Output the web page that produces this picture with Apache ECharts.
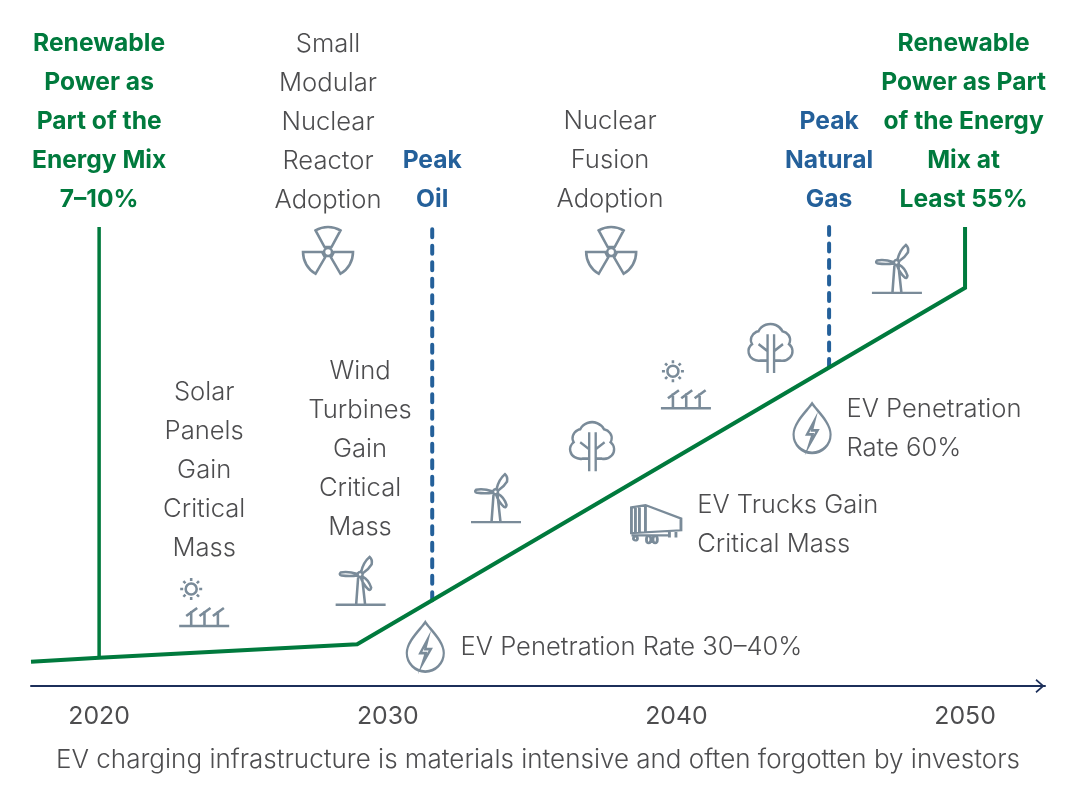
<!DOCTYPE html>
<html>
<head>
<meta charset="utf-8">
<title>Renewable power timeline</title>
<style>
	html, body { margin: 0; padding: 0; background: #fff; }
	#chart { width: 1076px; height: 804px; }
</style>
<script src="https://cdn.jsdelivr.net/npm/echarts@6/dist/echarts.min.js"></script>
</head>
<body>
<div id="chart"></div>
<script>
	// values, x in years, y in an arbitrary "adoption level"
	var tickYears = [2020, 2030, 2040, 2050];
	var captionText = 'EV charging infrastructure is materials intensive and often forgotten by investors';

	var adoptionYears = [2017.64, 2020, 2028.94, 2050, 2050];
	var adoptionLevels = [5.5, 6.4, 9.5, 90.5, 104.3];
	var startDropYears = [2020, 2020];
	var startDropLevels = [6.4, 104.3];
	var peakOilYears = [2031.54, 2031.54];
	var peakOilLevels = [19.5, 104.3];
	var peakGasYears = [2045.29, 2045.29];
	var peakGasLevels = [72.5, 104.3];

	var greenNotes = ['Renewable\nPower as\nPart of the\nEnergy Mix\n7–10%', 'Renewable\nPower as Part\nof the Energy\nMix at\nLeast 55%'];
	var greenNoteYears = [2020, 2049.95];
	var greenNoteLevels = [128.2, 128.2];

	var blueNotes = ['Peak\nOil', 'Peak\nNatural\nGas'];
	var blueNoteYears = [2031.54, 2045.29];
	var blueNoteLevels = [114.9, 119.4];

	var greyNotes = ['Small\nModular\nNuclear\nReactor\nAdoption', 'Nuclear\nFusion\nAdoption', 'Solar\nPanels\nGain\nCritical\nMass', 'Wind\nTurbines\nGain\nCritical\nMass'];
	var greyNoteYears = [2027.93, 2037.7, 2023.64, 2029.04];
	var greyNoteLevels = [128.2, 119.4, 49, 53.8];

	var sideNotes = ['EV Penetration Rate 30–40%', 'EV Trucks Gain\nCritical Mass', 'EV Penetration\nRate 60%'];
	var sideNoteYears = [2032.52, 2040.72, 2045.89];
	var sideNoteLevels = [8.8, 36.6, 58.4];

	var reactorYears = [2027.93, 2037.74];
	var reactorLevels = [99, 99];
	var solarYears = [2023.64, 2040.33];
	var solarLevels = [19.1, 68.6];
	var turbineYears = [2029.06, 2033.75, 2047.64];
	var turbineLevels = [23.9, 42.7, 94.8];
	var treeYears = [2037.08, 2043.26];
	var treeLevels = [54.4, 76.7];
	var truckYears = [2039.3];
	var truckLevels = [36.8];
	var dropYears = [2031.3, 2044.7];
	var dropLevels = [8.9, 58.6];

	var GREEN = '#007a3d';
	var BLUE = '#24609a';
	var GREY_TEXT = '#4d4d4f';
	var ICON = '#7a8b99';
	var AXIS = '#1c2f5a';
	var FONT = 'Inter';

	var ICON_REACTOR = 'path://M-3.5 -5L-12.5 -21.7A25 25 0 0 1 12.5 -21.7L3.5 -5Z' +
		'M-6 0L-25 0A25 25 0 0 0 -12.5 21.7L-3 5.5Z' +
		'M6 0L25 0A25 25 0 0 1 12.5 21.7L3 5.5Z' +
		'M-4 0A4 4 0 1 0 4 0A4 4 0 1 0 -4 0Z';
	var ICON_SOLAR = 'path://M6.5 11A5.5 5.5 0 1 0 17.5 11A5.5 5.5 0 1 0 6.5 11Z' +
		'M12 0L12 3M12 19L12 22M1 11L4 11M20 11L23 11M4.2 3.2L6.3 5.3M17.7 16.7L19.8 18.8M4.2 18.8L6.3 16.7M17.7 5.3L19.8 3.2' +
		'M0 48L50 48M12 48L12 33M25.3 48L25.3 33M38.7 48L38.7 33' +
		'M7 38L18 30M20.3 38L31.3 30M33.7 38L44.7 30';
	var ICON_TURBINE = 'path://M0 48L50 48M22.5 21L20.5 48M26.5 21L29.5 48' +
		'M22 17.5Q12 14.5 5 16Q3 18 6 19Q14 20 22 19Z' +
		'M25.5 15.5Q27.5 6 34 0.5Q37 3 36 8Q33 13 27.5 16.5Z' +
		'M27 20Q33 23 35.5 31Q35 34 33 33Q27.5 28 25 20.5Z' +
		'M22 18A2.5 2.5 0 1 0 27 18A2.5 2.5 0 1 0 22 18Z';
	var ICON_TREE = 'path://M19.3 49L19.3 36.5L13 36.5A9.5 9.5 0 0 1 5 20A9 9 0 0 1 11 7A12 12 0 0 1 33 7A9 9 0 0 1 39 20A9.5 9.5 0 0 1 31 36.5L25.3 36.5L25.3 49' +
		'M19.3 36.5L19.3 10M25.3 36.5L25.3 10M19.3 27L11 20M25.3 27L33.5 20';
	var ICON_TRUCK = 'path://M0 2.3L14 0L49.5 13.3L49.5 25L0 27.7Z' +
		'M4 2L4 27.5M8 1.5L8 27.5M14 0L14 27' +
		'M0 30L37 30M38 26L38 32M44.5 26L44.5 32' +
		'M2 33A2 2 0 1 0 6 33A2 2 0 1 0 2 33Z' +
		'M15 34A2.2 3.6 0 1 0 19.4 34A2.2 3.6 0 1 0 15 34Z' +
		'M21.5 34A2.2 3.6 0 1 0 25.9 34A2.2 3.6 0 1 0 21.5 34Z';
	var ICON_DROP = 'path://M18.5 0C14 7 0 19 0 31A18.5 18.5 0 0 0 37 31C37 19 23 7 18.5 0Z' +
		'M21 17L13.5 31L19 31L15.5 42L24 27L18.5 27Z';

	function pairs(xs, ys) {
		var out = [];
		for (var i = 0; i < xs.length; i++) {
			out.push([xs[i], ys[i]]);
		}
		return out;
	}

	function lineSeries(xs, ys, color, width, dashed) {
		return {
			type: 'line',
			data: pairs(xs, ys),
			symbol: 'none',
			silent: true,
			lineStyle: {
				color: color,
				width: width,
				type: dashed ? [8, 8.5] : 'solid',
				cap: dashed ? 'round' : 'butt',
				join: 'miter'
			}
		};
	}

	function noteSeries(texts, xs, ys, color, weight, align) {
		var data = [];
		for (var i = 0; i < texts.length; i++) {
			data.push({ value: [xs[i], ys[i]], note: texts[i] });
		}
		return {
			type: 'scatter',
			data: data,
			symbolSize: 1,
			silent: true,
			itemStyle: { color: 'transparent', opacity: 1 },
			label: {
				show: true,
				position: 'inside',
				formatter: function (p) {
					return p.data.note;
				},
				color: color,
				opacity: 1,
				fontFamily: FONT,
				fontSize: weight > 400 ? 24.6 : 25.6,
				fontWeight: weight,
				lineHeight: 39,
				align: align,
				verticalAlign: 'middle'
			}
		};
	}

	function iconSeries(symbol, size, xs, ys) {
		return {
			type: 'scatter',
			data: pairs(xs, ys),
			symbol: symbol,
			symbolSize: size,
			silent: true,
			z: 3,
			itemStyle: { color: 'none', borderColor: ICON, borderWidth: 2.5, opacity: 1 }
		};
	}

	var chart = echarts.init(document.getElementById('chart'));
	chart.setOption({
		animation: false,
		backgroundColor: '#fff',
		title: {
			text: captionText,
			left: 'center',
			top: 742,
			textStyle: { color: GREY_TEXT, fontFamily: FONT, fontSize: 26, fontWeight: 300 }
		},
		grid: { left: 31, right: 31, top: 26, height: 660 },
		xAxis: {
			type: 'value',
			min: 2017.64,
			max: 2052.77,
			splitLine: { show: false },
			axisTick: { show: false },
			axisLine: {
				onZero: false,
				symbol: ['none', 'path://M0 8L7 0L14 8L12.5 9L7 2.6L1.5 9Z'],
				symbolSize: [14, 9],
				symbolOffset: [0, -5],
				lineStyle: { color: AXIS, width: 2 }
			},
			axisLabel: {
				customValues: tickYears,
				formatter: function (v) {
					return String(v);
				},
				color: GREY_TEXT,
				fontFamily: FONT,
				fontSize: 24.8,
				margin: 18
			}
		},
		yAxis: { type: 'value', min: 0, max: 150, show: false },
		series: [
			lineSeries(startDropYears, startDropLevels, GREEN, 3.5),
			lineSeries(peakOilYears, peakOilLevels, BLUE, 4, true),
			lineSeries(peakGasYears, peakGasLevels, BLUE, 4, true),
			lineSeries(adoptionYears, adoptionLevels, GREEN, 4),
			noteSeries(greenNotes, greenNoteYears, greenNoteLevels, GREEN, 700, 'center'),
			noteSeries(blueNotes, blueNoteYears, blueNoteLevels, BLUE, 700, 'center'),
			noteSeries(greyNotes, greyNoteYears, greyNoteLevels, GREY_TEXT, 300, 'center'),
			noteSeries(sideNotes, sideNoteYears, sideNoteLevels, GREY_TEXT, 300, 'left'),
			iconSeries(ICON_REACTOR, [50, 46.7], reactorYears, reactorLevels),
			iconSeries(ICON_SOLAR, [50, 48], solarYears, solarLevels),
			iconSeries(ICON_TURBINE, [50, 48], turbineYears, turbineLevels),
			iconSeries(ICON_TREE, [44, 49], treeYears, treeLevels),
			iconSeries(ICON_TRUCK, [49.5, 38], truckYears, truckLevels),
			iconSeries(ICON_DROP, [37, 49.5], dropYears, dropLevels)
		]
	});
</script>
</body>
</html>
